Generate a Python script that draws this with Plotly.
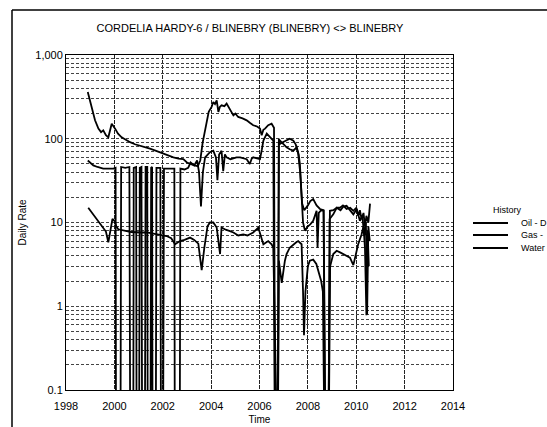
import plotly.graph_objects as go

# ---------------- data ----------------
ZERO = 0.01  # months with no production (drawn off the bottom of the log axis)

gas_t = [1998.90, 1999.06, 1999.20, 1999.34, 1999.45, 1999.54, 1999.65, 1999.75, 1999.85, 1999.89,
         2000.03, 2000.15, 2000.30, 2000.45, 2000.65, 2000.85, 2001.06, 2001.25, 2001.47, 2001.70,
         2002.02, 2002.20, 2002.44, 2002.65, 2002.85, 2003.00, 2003.13, 2003.30, 2003.45, 2003.55,
         2003.65, 2003.75, 2003.82, 2003.90, 2004.02, 2004.09, 2004.16, 2004.23, 2004.30, 2004.36,
         2004.43, 2004.55, 2004.64, 2004.75, 2004.92, 2005.00, 2005.12, 2005.30, 2005.47, 2005.60,
         2005.74, 2005.90, 2006.02, 2006.09, 2006.16, 2006.23, 2006.36, 2006.50, 2006.60, 2006.65,
         2006.75, 2006.80, 2006.85, 2007.00, 2007.12, 2007.25, 2007.40, 2007.50, 2007.60, 2007.68,
         2007.76, 2007.85, 2008.00, 2008.10, 2008.22, 2008.36, 2008.50, 2008.65, 2008.74, 2008.84,
         2008.91, 2009.05, 2009.20, 2009.33, 2009.45, 2009.60, 2009.75, 2009.88, 2010.00, 2010.08,
         2010.15, 2010.22, 2010.30, 2010.36, 2010.42, 2010.50, 2010.57]
gas_v = [362, 229, 166, 132, 120, 126, 110, 104, 130, 151,
         132, 115, 104, 98, 91, 86, 83, 80, 76, 72,
         66, 63, 60, 58, 57, 52, 50, 48, 47, 55,
         90, 130, 170, 210, 240, 275, 260, 288, 209, 240,
         251, 245, 263, 230, 190, 200, 182, 175, 166, 155,
         145, 140, 132, 110, 128, 132, 145, 151, 135, ZERO,
         ZERO, 100, 87, 92, 95, 100, 95, 85, 66, 40,
         17, 14, 16, 18, 19, 16, 14.5, 14, ZERO, ZERO,
         13.8, 14, 15, 15, 16, 14.5, 15, 13.8, 15, 12,
         14, 11, 13, 9, 12, 10, 16.8]

water_t = [1998.90, 1999.00, 1999.13, 1999.30, 1999.54, 1999.75, 1999.96, 2000.05, 2000.07, 2000.25,
           2000.28, 2000.45, 2000.62, 2000.66, 2000.78, 2000.80, 2000.90, 2000.92, 2001.02, 2001.05,
           2001.12, 2001.15, 2001.26, 2001.29, 2001.36, 2001.38, 2001.49, 2001.52, 2001.56, 2001.58,
           2001.71, 2001.74, 2001.90, 2001.93, 2002.01, 2002.05, 2002.30, 2002.48, 2002.50, 2002.70,
           2002.73, 2002.90, 2003.05, 2003.15, 2003.30, 2003.42, 2003.50, 2003.58, 2003.66, 2003.75,
           2003.82, 2003.95, 2004.09, 2004.20, 2004.26, 2004.33, 2004.43, 2004.50, 2004.57, 2004.64,
           2004.80, 2004.90, 2005.05, 2005.20, 2005.35, 2005.47, 2005.60, 2005.68, 2005.74, 2005.90,
           2006.02, 2006.10, 2006.16, 2006.30, 2006.43, 2006.57, 2006.64, 2006.76, 2006.80, 2006.85,
           2006.98, 2007.12, 2007.25, 2007.40, 2007.54, 2007.62, 2007.67, 2007.75, 2007.80, 2007.88,
           2008.00, 2008.10, 2008.22, 2008.36, 2008.40, 2008.45, 2008.55, 2008.65, 2008.72, 2008.85,
           2008.90, 2009.05, 2009.19, 2009.35, 2009.47, 2009.60, 2009.75, 2009.88, 2010.02, 2010.15,
           2010.25, 2010.33, 2010.40, 2010.45, 2010.50, 2010.56]
water_v = [55, 52, 48, 46, 44, 44, 44, 45, ZERO, ZERO,
           46, 45, 46, ZERO, ZERO, 45, 46, ZERO, ZERO, 45,
           46, ZERO, ZERO, 46, 46, ZERO, ZERO, 45, 46, ZERO,
           ZERO, 45, 45, ZERO, ZERO, 44, 44, 44, ZERO, ZERO,
           44, 43, 45, 52, 48, 55, 40, 15.5, 40, 60,
           63, 69, 72, 60, 32, 65, 72, 41, 65, 60,
           57, 58, 60, 60, 58, 57, 50, 58, 60, 58,
           57, 75, 95, 115, 104, 95, ZERO, ZERO, 90, 95,
           87, 79, 75, 72, 79, 65, 50, 20, 10, 8,
           9, 9.5, 10.5, 13.8, 5, 13, 14, 13.8, ZERO, ZERO,
           11, 12.5, 15, 14, 15.5, 15.8, 14, 12.5, 14.5, 10.5,
           12, 7, 10, 0.8, 9, 6]

oil_t = [1998.92, 1999.06, 1999.18, 1999.27, 1999.40, 1999.54, 1999.65, 1999.75, 1999.82, 1999.92,
         2000.00, 2000.08, 2000.16, 2000.35, 2000.51, 2000.70, 2000.92, 2001.10, 2001.34, 2001.55,
         2001.75, 2001.95, 2002.16, 2002.35, 2002.51, 2002.71, 2002.90, 2003.13, 2003.30, 2003.47,
         2003.61, 2003.72, 2003.85, 2003.95, 2004.09, 2004.23, 2004.30, 2004.37, 2004.43, 2004.60,
         2004.78, 2004.92, 2005.12, 2005.33, 2005.50, 2005.74, 2005.95, 2006.05, 2006.16, 2006.36,
         2006.50, 2006.57, 2006.65, 2006.75, 2006.80, 2006.92, 2007.05, 2007.12, 2007.25, 2007.40,
         2007.52, 2007.60, 2007.74, 2007.80, 2007.84, 2007.90, 2008.00, 2008.08, 2008.22, 2008.35,
         2008.43, 2008.55, 2008.62, 2008.70, 2008.85, 2008.92, 2009.05, 2009.19, 2009.33, 2009.47,
         2009.60, 2009.74, 2009.88, 2009.98, 2010.08, 2010.22, 2010.30, 2010.36, 2010.42, 2010.47,
         2010.52]
oil_v = [15, 13.2, 12, 11, 10, 8.7, 7.8, 5.8, 8, 11,
         10.5, 9, 8.3, 8, 7.9, 7.7, 7.6, 7.6, 7.6, 7.4,
         7.2, 7.0, 6.9, 6.5, 5.5, 6.0, 6.2, 6.6, 6.2, 5.6,
         2.7, 5, 9, 10, 10, 8.7, 6, 4.2, 8.7, 8.2,
         7.9, 7.6, 7.0, 7.2, 7.0, 7.6, 8.7, 7, 5.5, 6,
         5.5, 5, ZERO, ZERO, 3.5, 1.9, 3.5, 4.2, 5, 5.5,
         5.8, 6, 5.5, 1.5, 0.45, 1.5, 3.0, 3.5, 3.6, 3.2,
         2.6, 2.0, 1.5, ZERO, ZERO, 3, 4.2, 4.6, 4.4, 4.2,
         4.0, 3.8, 3.1, 4, 5.5, 7.2, 9, 5, 0.78, 8,
         3]

x_ticks = [1998, 2000, 2002, 2004, 2006, 2008, 2010, 2012, 2014]
y_decades = [0.1, 1, 10, 100, 1000]
y_decade_labels = ["0.1", "1", "10", "100", "1,000"]
legend_names = ["Oil - D", "Gas -", "Water"]

# gridline positions for the log axis (1..9 x each decade)
y_grid = []
y_grid_text = []
for d, lab in zip(y_decades[:-1], y_decade_labels[:-1]):
    for m in range(1, 10):
        y_grid.append(d * m)
        y_grid_text.append(lab if m == 1 else "")
y_grid.append(1000)
y_grid_text.append("1,000")

FONT = "Arial, 'Liberation Sans', Helvetica, sans-serif"
LINE_W = 1.8

fig = go.Figure()
fig.add_trace(go.Scatter(x=oil_t, y=oil_v, mode="lines", name=legend_names[0],
                         line=dict(color="black", width=LINE_W)))
fig.add_trace(go.Scatter(x=gas_t, y=gas_v, mode="lines", name=legend_names[1],
                         line=dict(color="black", width=LINE_W)))
fig.add_trace(go.Scatter(x=water_t, y=water_v, mode="lines", name=legend_names[2],
                         line=dict(color="black", width=LINE_W)))

W, H = 547, 427
L, R, T, B = 66, 94, 55, 37
pw, ph = W - L - R, H - T - B


def px_x(p):
    return (p - L) / pw


def px_y(p):
    return (H - B - p) / ph


fig.update_layout(
    width=W, height=H,
    margin=dict(l=L, r=R, t=T, b=B, autoexpand=False),
    paper_bgcolor="white", plot_bgcolor="white",
    showlegend=False,
    font=dict(family=FONT, color="black", size=11),
    title=dict(text="CORDELIA HARDY-6 / BLINEBRY (BLINEBRY) <> BLINEBRY",
               x=px_x(250), xanchor="center", xref="paper",
               y=(H - 28) / H, yanchor="middle", yref="container",
               font=dict(size=11, family=FONT, color="black")),
    xaxis=dict(range=[1998, 2014], tickvals=x_ticks, ticktext=[str(v) for v in x_ticks],
               showgrid=True, gridcolor="#222", gridwidth=1, griddash="4px,1px",
               showline=True, linecolor="black", linewidth=1, mirror=True,
               zeroline=False, ticks="", tickfont=dict(size=11), ticklabelstandoff=6,
               title=dict(text="Time", font=dict(size=10), standoff=4)),
    yaxis=dict(type="log", range=[-1, 3], tickvals=y_grid, ticktext=y_grid_text,
               showgrid=True, gridcolor="#444", gridwidth=1, griddash="3px,2px",
               showline=True, linecolor="black", linewidth=1, mirror=True,
               zeroline=False, ticks="", tickfont=dict(size=11),
               title=dict(text="Daily Rate", font=dict(size=10), standoff=6)),
)

# outer frame (top and left edges visible in the reference)
fig.add_shape(type="line", xref="paper", yref="paper",
              x0=px_x(12), x1=px_x(W + 5), y0=px_y(10), y1=px_y(10),
              line=dict(color="black", width=1.5))
fig.add_shape(type="line", xref="paper", yref="paper",
              x0=px_x(12), x1=px_x(12), y0=px_y(10), y1=px_y(H + 5),
              line=dict(color="black", width=1.5))

# manual legend
fig.add_annotation(text="History", xref="paper", yref="paper", x=px_x(507), y=px_y(210),
                   xanchor="center", yanchor="middle", showarrow=False,
                   font=dict(size=9, family=FONT, color="black"))
for name, yy in zip(legend_names, [223, 235, 248]):
    fig.add_shape(type="line", xref="paper", yref="paper",
                  x0=px_x(473), x1=px_x(508), y0=px_y(yy), y1=px_y(yy),
                  line=dict(color="black", width=LINE_W))
    fig.add_annotation(text=name, xref="paper", yref="paper", x=px_x(519), y=px_y(yy),
                       xanchor="left", yanchor="middle", showarrow=False,
                       font=dict(size=9, family=FONT, color="black"))

fig.write_html("out.html", config={"displayModeBar": False},
               post_script="document.body.style.margin='0';document.body.style.overflow='hidden';")
